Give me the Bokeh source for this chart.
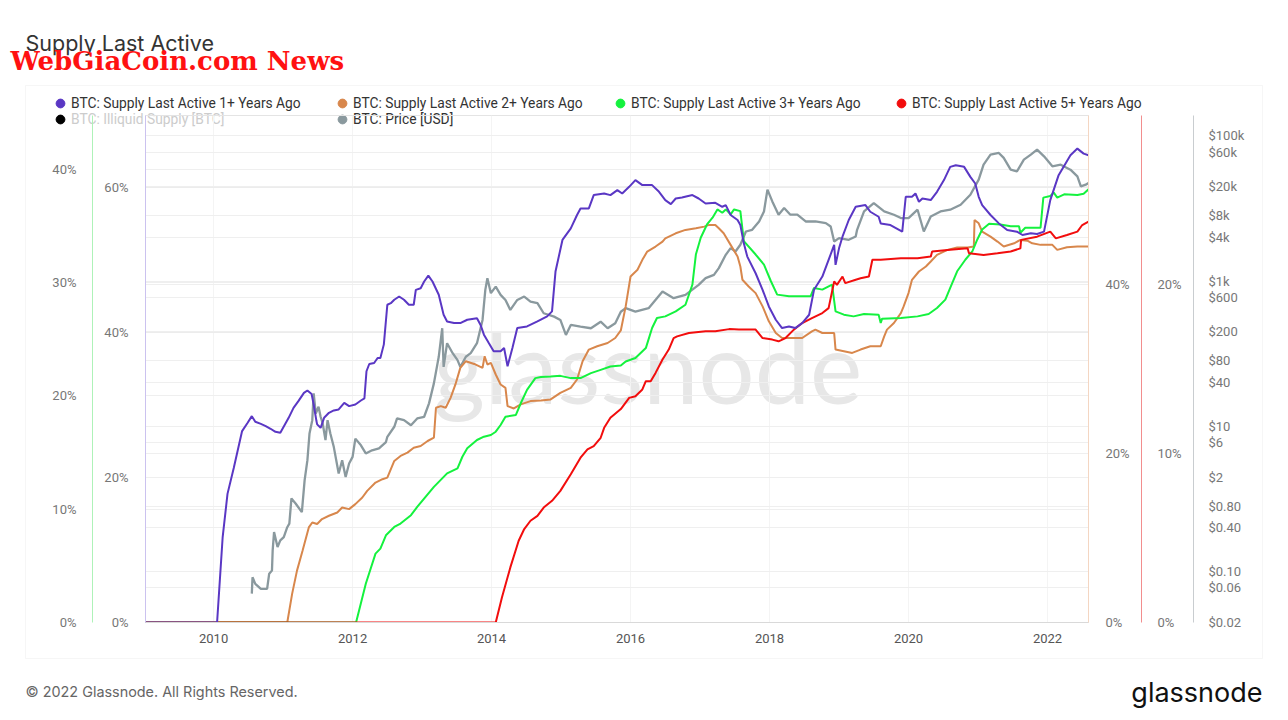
from bokeh.plotting import figure
from bokeh.layouts import column
from bokeh.models import (Range1d, LinearAxis, LogAxis, LogScale, FixedTicker,
                          PrintfTickFormatter, Grid, Legend, LegendItem, Label, BoxAnnotation)
from bokeh.embed import file_html
from bokeh.resources import INLINE

# ---------------- data (decimal years, percent of supply / USD) ----------------
t_1y = [2009.02, 2010.05, 2010.13, 2010.20, 2010.29, 2010.41, 2010.49, 2010.55, 2010.60, 2010.68,
        2010.75, 2010.82, 2010.89, 2010.96, 2011.04, 2011.08, 2011.15, 2011.22, 2011.30, 2011.35,
        2011.41, 2011.44, 2011.48, 2011.49, 2011.54, 2011.59, 2011.66, 2011.73, 2011.80, 2011.88,
        2011.95, 2012.04, 2012.12, 2012.17, 2012.20, 2012.24, 2012.31, 2012.36, 2012.40, 2012.45,
        2012.50, 2012.55, 2012.60, 2012.67, 2012.74, 2012.81, 2012.88, 2012.91, 2012.98, 2013.03,
        2013.09, 2013.15, 2013.24, 2013.31, 2013.36, 2013.46, 2013.55, 2013.65, 2013.79, 2013.84,
        2013.89, 2013.96, 2014.03, 2014.13, 2014.18, 2014.23, 2014.30, 2014.37, 2014.51, 2014.66,
        2014.80, 2014.87, 2014.92, 2015.02, 2015.14, 2015.23, 2015.28, 2015.40, 2015.47, 2015.62,
        2015.71, 2015.81, 2015.88, 2015.98, 2016.07, 2016.17, 2016.31, 2016.41, 2016.50, 2016.58,
        2016.65, 2016.74, 2016.89, 2016.98, 2017.08, 2017.22, 2017.32, 2017.37, 2017.44, 2017.54,
        2017.58, 2017.63, 2017.68, 2017.80, 2017.90, 2017.99, 2018.09, 2018.18, 2018.28, 2018.37,
        2018.47, 2018.57, 2018.64, 2018.76, 2018.85, 2018.93, 2018.95, 2019.00, 2019.05, 2019.14,
        2019.24, 2019.38, 2019.45, 2019.57, 2019.60, 2019.74, 2019.91, 2019.96, 2020.05, 2020.10,
        2020.15, 2020.20, 2020.32, 2020.41, 2020.51, 2020.60, 2020.68, 2020.80, 2020.89, 2020.96,
        2021.01, 2021.06, 2021.18, 2021.30, 2021.42, 2021.56, 2021.64, 2021.76, 2021.85, 2021.95,
        2022.04, 2022.16, 2022.33, 2022.43, 2022.52, 2022.59]
v_1y = [0, 0, 11.74, 17.76, 21.34, 26.43, 27.57, 28.49, 27.71, 27.43,
        27.12, 26.75, 26.33, 26.19, 27.57, 28.26, 29.64, 30.56, 31.70, 32.03,
        31.56, 30.10, 27.81, 27.35, 26.88, 28.26, 28.95, 29.28, 29.42, 30.32,
        29.87, 30.10, 30.65, 30.93, 34.69, 35.69, 35.83, 36.52, 36.52, 38.40,
        43.87, 44.09, 44.56, 45.01, 44.56, 43.87, 43.87, 45.93, 46.15, 47.08,
        47.90, 47.08, 45.25, 42.49, 41.57, 41.34, 41.34, 41.80, 42.02, 41.12,
        39.74, 38.58, 37.44, 37.44, 37.90, 35.38, 37.90, 40.65, 40.88, 41.57,
        42.26, 42.95, 48.45, 52.82, 54.41, 56.26, 57.17, 57.17, 59.01, 59.23,
        59.01, 59.70, 59.23, 60.15, 61.08, 60.39, 60.39, 59.46, 58.32, 57.77,
        58.54, 58.68, 59.01, 58.54, 57.85, 57.95, 57.40, 57.63, 56.26, 55.57,
        54.88, 52.35, 50.52, 48.22, 45.93, 43.64, 41.80, 40.65, 40.88, 40.65,
        41.34, 42.49, 45.93, 47.76, 50.06, 52.13, 49.38, 51.66, 53.27, 55.57,
        57.40, 57.63, 56.71, 56.02, 55.10, 54.88, 53.96, 58.78, 58.78, 59.23,
        58.09, 58.54, 58.32, 59.46, 61.08, 62.91, 63.14, 62.91, 61.53, 60.61,
        58.78, 57.63, 56.26, 55.10, 54.19, 53.96, 53.50, 53.73, 53.64, 53.96,
        58.32, 61.76, 64.52, 65.43, 64.74, 64.52]

t_2y = [2009.02, 2011.06, 2011.13, 2011.20, 2011.28, 2011.37, 2011.42, 2011.49, 2011.56, 2011.66,
        2011.78, 2011.85, 2011.95, 2012.04, 2012.14, 2012.21, 2012.33, 2012.43, 2012.50, 2012.60,
        2012.69, 2012.79, 2012.88, 2012.98, 2013.08, 2013.17, 2013.20, 2013.27, 2013.34, 2013.41,
        2013.48, 2013.55, 2013.63, 2013.75, 2013.87, 2013.90, 2013.94, 2013.99, 2014.06, 2014.13,
        2014.20, 2014.23, 2014.32, 2014.42, 2014.56, 2014.71, 2014.85, 2014.99, 2015.14, 2015.23,
        2015.31, 2015.40, 2015.52, 2015.67, 2015.78, 2015.86, 2015.93, 2016.00, 2016.10, 2016.17,
        2016.24, 2016.36, 2016.46, 2016.50, 2016.65, 2016.79, 2016.94, 2017.06, 2017.13, 2017.22,
        2017.27, 2017.34, 2017.44, 2017.54, 2017.58, 2017.61, 2017.70, 2017.80, 2017.90, 2017.99,
        2018.09, 2018.18, 2018.33, 2018.47, 2018.61, 2018.66, 2018.76, 2018.93, 2018.95, 2019.07,
        2019.19, 2019.31, 2019.45, 2019.60, 2019.65, 2019.69, 2019.79, 2019.89, 2019.93, 2020.00,
        2020.05, 2020.15, 2020.25, 2020.32, 2020.41, 2020.56, 2020.70, 2020.85, 2020.94, 2020.95,
        2021.01, 2021.06, 2021.18, 2021.28, 2021.37, 2021.52, 2021.61, 2021.71, 2021.78, 2021.90,
        2022.07, 2022.14, 2022.28, 2022.43, 2022.59]
v_2y = [0, 0, 3.39, 6.14, 8.50, 11.25, 11.84, 11.65, 12.24, 12.63,
        13.02, 13.61, 13.42, 14.01, 14.79, 15.58, 16.56, 16.96, 17.15, 19.12,
        19.71, 20.10, 20.69, 20.89, 21.48, 21.87, 25.41, 25.61, 25.41, 26.59,
        28.17, 30.13, 30.92, 30.60, 30.13, 31.51, 30.53, 30.72, 29.35, 28.17,
        27.77, 25.61, 25.33, 25.81, 26.20, 26.28, 26.40, 27.18, 27.77, 28.76,
        30.92, 32.30, 32.69, 33.08, 33.67, 34.56, 37.41, 40.95, 41.74, 42.92,
        43.90, 44.49, 45.08, 45.47, 46.06, 46.46, 46.65, 46.85, 47.05, 47.05,
        46.65, 46.06, 44.69, 43.31, 42.13, 40.56, 39.77, 38.98, 37.41, 35.64,
        34.26, 33.67, 33.67, 33.67, 34.46, 34.66, 34.26, 34.26, 32.30, 32.10,
        31.90, 32.30, 32.69, 32.69, 33.87, 34.66, 35.44, 36.62, 37.41, 38.98,
        40.56, 41.54, 42.13, 42.72, 43.51, 44.10, 44.37, 44.37, 44.49, 47.64,
        47.24, 46.26, 45.67, 45.08, 44.49, 44.88, 45.28, 45.19, 44.88, 44.69,
        44.69, 44.10, 44.40, 44.49, 44.49]

t_3y = [2009.02, 2012.05, 2012.19, 2012.33, 2012.40, 2012.48, 2012.60, 2012.69, 2012.84, 2012.93,
        2013.05, 2013.17, 2013.29, 2013.36, 2013.51, 2013.58, 2013.65, 2013.79, 2013.89, 2013.99,
        2014.06, 2014.13, 2014.20, 2014.35, 2014.42, 2014.51, 2014.63, 2014.71, 2014.85, 2014.99,
        2015.14, 2015.28, 2015.43, 2015.57, 2015.71, 2015.86, 2015.93, 2016.07, 2016.22, 2016.31,
        2016.38, 2016.50, 2016.65, 2016.79, 2016.89, 2016.94, 2017.01, 2017.10, 2017.18, 2017.25,
        2017.32, 2017.37, 2017.44, 2017.49, 2017.58, 2017.63, 2017.80, 2017.92, 2018.02, 2018.11,
        2018.28, 2018.47, 2018.59, 2018.64, 2018.76, 2018.90, 2018.95, 2019.07, 2019.21, 2019.36,
        2019.57, 2019.60, 2019.62, 2019.89, 2020.13, 2020.29, 2020.41, 2020.53, 2020.60, 2020.70,
        2020.82, 2020.92, 2020.99, 2021.06, 2021.16, 2021.32, 2021.47, 2021.59, 2021.61, 2021.68,
        2021.90, 2021.94, 2022.04, 2022.09, 2022.14, 2022.24, 2022.43, 2022.52, 2022.59]
v_3y = [0, 0, 3.42, 6.08, 6.52, 7.70, 8.43, 8.73, 9.47, 10.20,
        11.09, 11.97, 12.72, 13.16, 13.60, 14.63, 15.37, 16.11, 16.40, 16.55,
        16.84, 17.43, 18.17, 18.32, 19.35, 20.53, 21.57, 21.66, 21.71, 21.77,
        21.57, 21.57, 22.01, 22.30, 22.59, 22.68, 23.04, 23.34, 24.22, 25.99,
        26.88, 27.02, 27.46, 28.05, 29.82, 32.48, 33.96, 35.13, 35.73, 36.46,
        36.17, 36.46, 36.02, 36.46, 36.31, 33.66, 32.48, 31.59, 30.12, 28.94,
        28.79, 28.79, 28.79, 29.53, 29.38, 29.82, 27.46, 27.17, 27.02, 27.23,
        27.17, 26.43, 26.82, 26.88, 27.02, 27.23, 27.76, 28.50, 29.53, 31.00,
        32.04, 32.77, 33.81, 34.69, 35.20, 35.13, 34.98, 34.98, 34.40, 34.84,
        34.84, 37.50, 37.64, 37.94, 37.50, 37.79, 37.73, 37.85, 38.23]

t_5y = [2009.02, 2014.06, 2014.15, 2014.27, 2014.39, 2014.47, 2014.56, 2014.66, 2014.75, 2014.87,
        2014.99, 2015.14, 2015.28, 2015.38, 2015.47, 2015.57, 2015.62, 2015.71, 2015.86, 2015.98,
        2016.07, 2016.17, 2016.22, 2016.29, 2016.36, 2016.46, 2016.55, 2016.62, 2016.67, 2016.84,
        2017.08, 2017.22, 2017.42, 2017.56, 2017.80, 2017.90, 2018.04, 2018.13, 2018.23, 2018.35,
        2018.47, 2018.61, 2018.76, 2018.85, 2018.93, 2018.97, 2019.05, 2019.09, 2019.24, 2019.31,
        2019.43, 2019.48, 2019.60, 2019.89, 2020.13, 2020.32, 2020.34, 2020.60, 2020.85, 2020.87,
        2021.08, 2021.28, 2021.47, 2021.61, 2021.62, 2021.85, 2022.04, 2022.12, 2022.28, 2022.43,
        2022.50, 2022.59]
v_5y = [0, 0, 1.49, 3.26, 4.84, 5.53, 6.02, 6.31, 6.80, 7.20,
        7.79, 8.77, 9.75, 10.25, 10.44, 10.93, 11.52, 12.11, 12.63, 13.29,
        13.39, 13.79, 14.28, 14.28, 14.77, 15.56, 16.15, 16.83, 16.93, 17.13,
        17.23, 17.23, 17.36, 17.33, 17.33, 16.83, 16.74, 16.64, 16.83, 17.33,
        17.72, 18.01, 18.31, 18.60, 20.18, 19.98, 20.47, 20.08, 20.28, 20.37,
        20.47, 21.46, 21.46, 21.55, 21.55, 21.65, 21.95, 22.05, 22.14, 21.85,
        21.75, 21.85, 21.95, 22.14, 22.64, 22.83, 23.13, 22.73, 22.93, 23.13,
        23.52, 23.72]

t_px = [2010.55, 2010.56, 2010.60, 2010.68, 2010.77, 2010.80, 2010.84, 2010.85, 2010.87, 2010.92,
        2010.96, 2011.01, 2011.06, 2011.09, 2011.12, 2011.18, 2011.27, 2011.31, 2011.35, 2011.38,
        2011.42, 2011.44, 2011.47, 2011.51, 2011.54, 2011.57, 2011.61, 2011.64, 2011.68, 2011.73,
        2011.80, 2011.85, 2011.90, 2011.95, 2012.00, 2012.04, 2012.12, 2012.19, 2012.28, 2012.38,
        2012.48, 2012.50, 2012.60, 2012.64, 2012.74, 2012.84, 2012.93, 2013.03, 2013.10, 2013.17,
        2013.24, 2013.29, 2013.31, 2013.36, 2013.44, 2013.51, 2013.55, 2013.63, 2013.70, 2013.79,
        2013.87, 2013.91, 2013.94, 2013.99, 2014.06, 2014.13, 2014.20, 2014.27, 2014.37, 2014.47,
        2014.56, 2014.66, 2014.75, 2014.90, 2014.99, 2015.07, 2015.14, 2015.28, 2015.43, 2015.57,
        2015.67, 2015.78, 2015.86, 2015.93, 2016.07, 2016.26, 2016.46, 2016.62, 2016.79, 2016.98,
        2017.08, 2017.20, 2017.27, 2017.37, 2017.44, 2017.51, 2017.58, 2017.66, 2017.75, 2017.85,
        2017.92, 2017.97, 2018.04, 2018.13, 2018.21, 2018.30, 2018.40, 2018.52, 2018.66, 2018.81,
        2018.88, 2018.93, 2019.00, 2019.14, 2019.24, 2019.26, 2019.36, 2019.50, 2019.65, 2019.79,
        2019.89, 2020.00, 2020.13, 2020.22, 2020.32, 2020.46, 2020.60, 2020.75, 2020.89, 2021.01,
        2021.08, 2021.18, 2021.30, 2021.37, 2021.47, 2021.56, 2021.66, 2021.76, 2021.85, 2021.95,
        2022.07, 2022.19, 2022.33, 2022.43, 2022.48, 2022.55, 2022.59]
v_px = [0.05, 0.084, 0.068, 0.058, 0.058, 0.094, 0.104, 0.197, 0.352, 0.219,
        0.27, 0.30, 0.41, 0.46, 1.02, 0.87, 0.66, 1.82, 3.43, 8.0,
        12.2, 28.5, 15.1, 18.7, 13.6, 11.0, 6.5, 12.2, 8.0, 5.2,
        2.25, 3.43, 2.02, 3.09, 3.81, 6.8, 5.5, 4.25, 4.7, 4.98,
        6.1, 7.2, 9.9, 12.9, 12.2, 10.4, 12.9, 13.6, 20.8, 39.2,
        91, 225, 66, 140, 102, 82, 66, 91, 102, 140,
        293, 759, 1101, 684, 843, 648, 552, 402, 552, 614,
        524, 498, 362, 325, 293, 182, 250, 237, 225, 277,
        225, 264, 380, 425, 381, 425, 719, 583, 648, 890,
        1101, 1222, 1513, 2307, 2853, 2563, 3170, 4833, 5101, 6637,
        9120, 18200, 12530, 8222, 10160, 8222, 8222, 6637, 6637, 6310,
        5662, 3524, 3919, 3715, 4124, 5101, 9120, 11910, 9120, 8222,
        7396, 7396, 9638, 4833, 7783, 9120, 9638, 11300, 15520, 25000,
        40180, 55200, 58300, 49770, 34280, 32500, 47100, 55200, 64700, 52360,
        38100, 40180, 34280, 27730, 20200, 21300, 22500]

year_ticks = [2010, 2012, 2014, 2016, 2018, 2020, 2022]
ticks_1y = [0, 20, 40, 60]
ticks_2y = [0, 20, 40]
ticks_3y = [0, 10, 20, 30, 40]
ticks_5y = [0, 10, 20]
price_ticks = [0.02, 0.06, 0.1, 0.4, 0.8, 2, 6, 10, 40, 80, 200, 600, 1000, 4000, 8000,
               20000, 60000, 100000]
price_tick_labels = ["$0.02", "$0.06", "$0.10", "$0.40", "$0.80", "$2", "$6", "$10", "$40",
                     "$80", "$200", "$600", "$1k", "$4k", "$8k", "$20k", "$60k", "$100k"]

names = ["BTC: Supply Last Active 1+ Years Ago", "BTC: Supply Last Active 2+ Years Ago",
         "BTC: Supply Last Active 3+ Years Ago", "BTC: Supply Last Active 5+ Years Ago",
         "BTC: Illiquid Supply [BTC]", "BTC: Price [USD]"]

# ---------------- styling ----------------
C1, C2, C3, C5, CI, CP = "#5a37c4", "#d8874c", "#14f23e", "#f20d0d", "#000000", "#8a999e"
W, H = 1288, 720
FL, FR, FT, FB = 145, 1088, 115, 622
TICKFONT = "Roboto"

# ===== background page (title, box, watermark, legend, footer) =====
bg = figure(width=W, height=H, output_backend="svg", toolbar_location=None,
            x_range=Range1d(0, W), y_range=Range1d(H, 0),
            x_axis_location=None, y_axis_location=None, min_border=0,
            outline_line_color=None, background_fill_color="white",
            border_fill_color="white")
bg.frame_align = False
for g in bg.grid:
    g.visible = False

bg.add_layout(BoxAnnotation(left=25, right=1262, top=85, bottom=658, fill_alpha=0,
                            line_color="#e2e2e2", line_width=1))
bg.add_layout(Label(x=433, y=365, text="glassnode", text_font="Lato",
                    text_font_size="99px", text_color="#e7e7e7",
                    text_baseline="alphabetic"))
bg.add_layout(Label(x=25, y=42, text="Supply Last Active", text_font="Inter",
                    text_font_size="21.5px", text_color="#333333", text_baseline="alphabetic"))
bg.add_layout(Label(x=10, y=60, text="WebGiaCoin.com News", text_font="DejaVu Serif",
                    text_font_style="bold", text_font_size="26px", text_color="#ff1111",
                    text_baseline="alphabetic"))
bg.add_layout(Label(x=25, y=690.5, text="\u00a9 2022 Glassnode. All Rights Reserved.",
                    text_font="Inter", text_font_size="14.4px", text_color="#666666",
                    text_baseline="alphabetic"))
bg.add_layout(Label(x=1262, y=692, text="glassnode", text_font="Inter",
                    text_font_size="27px", text_color="#111111", text_align="right",
                    text_baseline="alphabetic"))

leg_pos = [(49, 103), (331, 103), (609, 103), (890, 103), (49, 119), (331, 119)]
leg_cols = [C1, C2, C3, C5, CI, CP]
for i, (name, col, (lx, ly)) in enumerate(zip(names, leg_cols, leg_pos)):
    # legend proxy glyph, placed off the visible page
    r = bg.scatter(x=[-100], y=[-100], marker="circle", size=10, fill_color=col,
                   line_color=col)
    bg.add_layout(Legend(items=[LegendItem(label=name, renderers=[r])],
                         location=(lx, H - ly - 12), orientation="vertical",
                         padding=0, margin=0, spacing=0, border_line_color=None,
                         background_fill_alpha=0, glyph_width=22, glyph_height=24,
                         label_height=24, label_standoff=0, label_text_font=TICKFONT,
                         label_text_font_size="13.8px",
                         label_text_color="#cccccc" if i == 4 else "#333333"))

# ===== main chart (transparent, laid over the page) =====
p = figure(width=W, height=H, output_backend="svg", toolbar_location=None,
           x_range=Range1d(2009.02, 2022.59), y_range=Range1d(0, 70),
           min_border_left=FL, min_border_right=W - FR, min_border_top=FT,
           min_border_bottom=H - FB, outline_line_color="#e4e4e4",
           background_fill_alpha=0, border_fill_alpha=0)
p.frame_align = False
p.margin = (-H, 0, 0, 0)
p.extra_y_ranges = {"g3": Range1d(0, 44.75), "o2": Range1d(0, 60),
                    "r5": Range1d(0, 30), "px": Range1d(0.02, 191000)}
p.extra_y_scales = {"px": LogScale()}


def style_axis(ax, line_color, standoff, pad=None):
    ax.axis_line_color = line_color
    ax.major_tick_line_color = None
    ax.minor_tick_line_color = None
    ax.major_tick_out = 0
    ax.major_tick_in = 0
    ax.major_label_standoff = standoff
    ax.major_label_text_font = TICKFONT
    ax.major_label_text_font_size = "13px"
    ax.major_label_text_color = "#777777"
    if pad is not None:
        ax.axis_label = " "
        ax.axis_label_text_font_size = "1px"
        ax.axis_label_standoff = pad


xa = p.xaxis[0]
xa.ticker = FixedTicker(ticks=year_ticks)
xa.formatter = PrintfTickFormatter(format="%d")
style_axis(xa, "#d9d9d9", 11)
xa.major_label_text_color = "#555555"
p.xgrid.grid_line_color = "#f4f4f4"
p.xgrid.ticker = xa.ticker

ya = p.yaxis[0]
ya.ticker = FixedTicker(ticks=ticks_1y)
ya.formatter = PrintfTickFormatter(format="%d%%")
style_axis(ya, "#cbc2ef", 17, pad=5)
p.ygrid.ticker = ya.ticker
p.ygrid.grid_line_color = "#ececec"

ag = LinearAxis(y_range_name="g3", ticker=FixedTicker(ticks=ticks_3y),
                formatter=PrintfTickFormatter(format="%d%%"))
style_axis(ag, "#aef2b8", 16)
p.add_layout(ag, "left")

ao = LinearAxis(y_range_name="o2", ticker=FixedTicker(ticks=ticks_2y),
                formatter=PrintfTickFormatter(format="%d%%"))
style_axis(ao, "#f4d6c2", 17, pad=5)
p.add_layout(ao, "right")

ar = LinearAxis(y_range_name="r5", ticker=FixedTicker(ticks=ticks_5y),
                formatter=PrintfTickFormatter(format="%d%%"))
style_axis(ar, "#f28e8e", 16, pad=5)
p.add_layout(ar, "right")

ap = LogAxis(y_range_name="px", ticker=FixedTicker(ticks=price_ticks))
ap.major_label_overrides = {float(k): lab for k, lab in zip(price_ticks, price_tick_labels)}
style_axis(ap, "#c9cdd0", 15)
p.add_layout(ap, "right")

for rng, tk in (("g3", ticks_3y), ("o2", ticks_2y), ("px", price_ticks)):
    p.add_layout(Grid(dimension=1, ticker=FixedTicker(ticks=tk), y_range_name=rng,
                      grid_line_color="#efefef"))

p.line(t_px, v_px, y_range_name="px", line_color=CP, line_width=2.3)
p.line(t_2y, v_2y, y_range_name="o2", line_color=C2, line_width=2)
p.line(t_3y, v_3y, y_range_name="g3", line_color=C3, line_width=2)
p.line(t_5y, v_5y, y_range_name="r5", line_color=C5, line_width=2)
p.line(t_1y, v_1y, line_color=C1, line_width=2)

layout = column(bg, p, spacing=0)
open("out.html", "w").write(file_html(layout, INLINE))
